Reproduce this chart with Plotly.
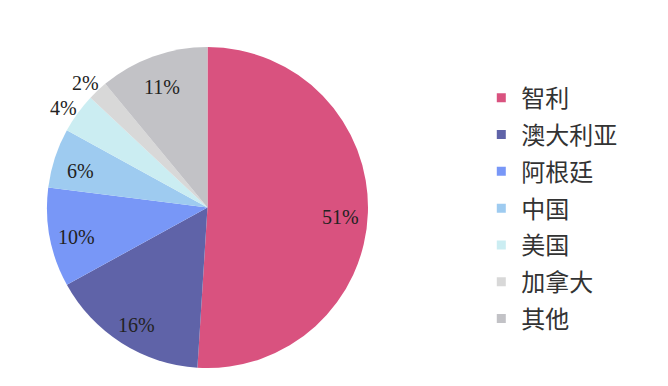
import math
import plotly.graph_objects as go

countries = ["智利", "澳大利亚", "阿根廷", "中国", "美国", "加拿大", "其他"]
shares = [51, 16, 10, 6, 4, 2, 11]
colors = ["#D9527F", "#5F63A8", "#7897F7", "#9ECBF0", "#CBEDF2", "#D8D8D8", "#C2C2C6"]
label_outside = [False, False, False, False, True, True, False]

W, H = 668, 386
CX, CY, R = 207.5, 207.5, 160.5  # pie centre / radius in pixels

fig = go.Figure()
fig.add_trace(go.Pie(
    labels=countries, values=shares, sort=False, direction="clockwise", rotation=0,
    marker=dict(colors=colors, line=dict(width=0)),
    textinfo="none", showlegend=False, hoverinfo="label+percent",
    domain=dict(x=[(CX - R) / W, (CX + R) / W], y=[(H - CY - R) / H, (H - CY + R) / H]),
))

# percentage labels placed along the mid-angle of each slice
total = sum(shares)
cum = 0
for v, out in zip(shares, label_outside):
    mid = (cum + v / 2) / total * 2 * math.pi
    cum += v
    rr = R * (1.11 if out else 0.83)
    px = CX + rr * math.sin(mid)
    py = CY - rr * math.cos(mid)
    fig.add_annotation(
        x=px / W, y=1 - py / H, xref="paper", yref="paper",
        text=f"{v}%", showarrow=False, xanchor="center", yanchor="middle",
        yshift=-5,
        font=dict(family="Liberation Serif", size=20, color="#222222"),
    )

for c, col in zip(countries, colors):
    fig.add_trace(go.Scatter(
        x=[None], y=[None], mode="markers", name=c, legendgroup=c,
        marker=dict(symbol="square", size=9, color=col),
    ))

fig.update_layout(
    width=W, height=H, margin=dict(l=0, r=0, t=0, b=0),
    paper_bgcolor="white", plot_bgcolor="white",
    xaxis=dict(visible=False), yaxis=dict(visible=False),
    legend=dict(
        x=0.7205, y=0.804, xanchor="left", yanchor="top",
        font=dict(family="Noto Sans CJK SC", size=24, color="#333333"),
        tracegroupgap=2.6, itemwidth=30, bgcolor="rgba(0,0,0,0)",
    ),
)
fig.write_html("out.html", config={"displayModeBar": False},
               post_script="document.body.style.margin='0px';")
